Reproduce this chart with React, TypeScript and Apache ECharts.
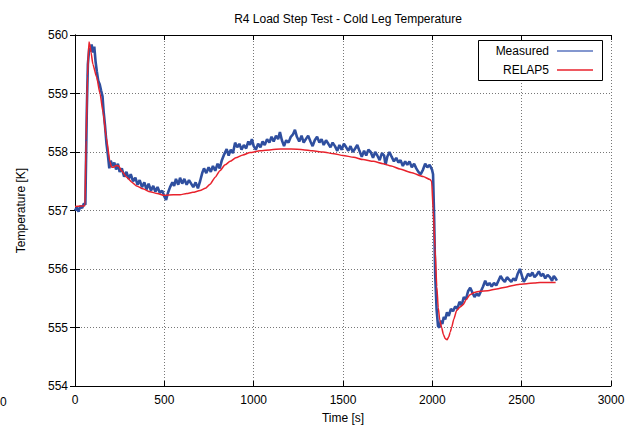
import React, { useEffect, useRef } from "react";
import * as echarts from "echarts";

const TITLE = "R4 Load Step Test - Cold Leg Temperature";
const X_NAME = "Time [s]";
const Y_NAME = "Temperature [K]";
const SERIES_NAMES = ["Measured", "RELAP5"];

const measuredT = [
  0, 10, 20, 30, 40, 50, 58, 62, 66, 72, 80, 88, 93, 100, 108, 115, 122, 130, 138, 146,
  154, 160, 168, 176, 184, 192, 200, 210, 220, 230, 240, 250, 262, 275, 288, 300, 312, 325, 338, 350,
  362, 375, 388, 400, 412, 425, 438, 450, 462, 475, 488, 500, 510, 520, 532, 545, 555, 565, 578, 588,
  600, 612, 625, 638, 650, 662, 675, 688, 700, 712, 722, 735, 748, 760, 772, 785, 798, 810, 822, 835,
  849, 860, 872, 884, 896, 908, 920, 932, 945, 958, 970, 980, 990, 1000, 1012, 1025, 1038, 1050, 1062, 1075,
  1088, 1100, 1112, 1125, 1137, 1147, 1158, 1170, 1182, 1195, 1208, 1220, 1231, 1242, 1255, 1268, 1280, 1292, 1305, 1318,
  1330, 1342, 1355, 1368, 1380, 1392, 1405, 1418, 1430, 1442, 1455, 1468, 1480, 1492, 1505, 1518, 1530, 1542, 1555, 1568,
  1580, 1592, 1605, 1618, 1630, 1642, 1655, 1668, 1680, 1692, 1705, 1718, 1730, 1738, 1748, 1760, 1772, 1785, 1798, 1810,
  1822, 1835, 1848, 1860, 1872, 1885, 1898, 1910, 1922, 1935, 1948, 1960, 1972, 1985, 1998, 2004, 2010, 2016, 2024, 2032,
  2040, 2048, 2056, 2064, 2072, 2082, 2092, 2104, 2116, 2128, 2140, 2152, 2164, 2176, 2188, 2200, 2212, 2224, 2236, 2248,
  2260, 2272, 2284, 2296, 2308, 2320, 2332, 2345, 2358, 2370, 2382, 2394, 2406, 2418, 2430, 2442, 2454, 2466, 2478, 2490,
  2502, 2512, 2524, 2536, 2548, 2560, 2572, 2584, 2596, 2608, 2620, 2632, 2645, 2658, 2670, 2680, 2690, 2697,
];

const measuredV = [
  557.0, 557.05, 556.98, 557.08, 557.04, 557.12, 557.1, 557.9, 558.7, 559.5, 559.78, 559.72, 559.84, 559.7, 559.8, 559.55, 559.38, 559.22, 559.16, 559.05,
  558.95, 558.7, 558.45, 558.15, 557.95, 557.72, 557.85, 557.76, 557.82, 557.7, 557.8, 557.66, 557.72, 557.58, 557.66, 557.54, 557.62, 557.5, 557.56, 557.44,
  557.52, 557.4, 557.48, 557.36, 557.46, 557.34, 557.42, 557.32, 557.4, 557.3, 557.34, 557.24, 557.18, 557.3, 557.4, 557.48, 557.42, 557.54, 557.44, 557.56,
  557.46, 557.54, 557.44, 557.52, 557.46, 557.4, 557.48, 557.38, 557.5, 557.64, 557.72, 557.64, 557.74, 557.66, 557.76, 557.68, 557.8, 557.72, 557.86, 557.96,
  558.05, 557.94, 558.04, 557.98, 558.16, 558.08, 558.14, 558.04, 558.12, 558.06, 558.18, 558.12, 558.22, 558.1, 558.04, 558.14, 558.08, 558.18, 558.12, 558.22,
  558.16, 558.26, 558.18, 558.28, 558.22, 558.34, 558.2, 558.1, 558.2, 558.16, 558.26, 558.3, 558.38, 558.26, 558.18, 558.28, 558.16, 558.22, 558.28, 558.18,
  558.1, 558.2, 558.26, 558.16, 558.22, 558.12, 558.2, 558.14, 558.08, 558.16, 558.1, 558.02, 558.12, 558.04, 558.14, 558.08, 558.02, 558.1, 558.0, 558.06,
  558.12, 558.02, 557.92, 558.02, 557.94, 558.04, 558.0, 557.9, 558.0, 557.94, 557.86, 557.98, 557.94, 557.78, 557.92, 558.0, 557.92, 557.84, 557.9, 557.82,
  557.86, 557.76, 557.84, 557.78, 557.84, 557.74, 557.8, 557.72, 557.66, 557.62, 557.7, 557.8, 557.74, 557.78, 557.7, 557.62, 556.9, 555.9, 555.3, 555.02,
  555.0, 555.12, 555.06, 555.18, 555.14, 555.26, 555.2, 555.32, 555.28, 555.36, 555.32, 555.44, 555.38, 555.52, 555.48, 555.62, 555.68, 555.6, 555.52, 555.58,
  555.54, 555.62, 555.7, 555.8, 555.72, 555.76, 555.7, 555.76, 555.72, 555.8, 555.88, 555.82, 555.78, 555.86, 555.82, 555.78, 555.84, 555.8, 555.92, 556.0,
  555.88, 555.78, 555.84, 555.92, 555.88, 555.94, 555.86, 555.9, 555.96, 555.88, 555.92, 555.84, 555.9, 555.86, 555.8, 555.88, 555.84, 555.8,
];

const relapT = [
  0, 56, 62, 70, 78, 82, 90, 100, 121, 140, 157, 175, 196, 205, 215, 230, 245, 260, 289, 320,
  345, 380, 420, 460, 500, 550, 588, 625, 660, 700, 730, 756, 785, 811, 840, 868, 900, 940, 980, 1035,
  1100, 1150, 1210, 1276, 1330, 1388, 1450, 1500, 1560, 1612, 1670, 1724, 1770, 1819, 1880, 1948, 1987, 1996, 2005, 2015,
  2025, 2033, 2042, 2052, 2062, 2072, 2082, 2092, 2100, 2108, 2120, 2136, 2155, 2172, 2190, 2210, 2235, 2267, 2310, 2360,
  2410, 2452, 2490, 2528, 2570, 2603, 2650, 2690,
];

const relapV = [
  557.07, 557.08, 558.2, 559.3, 559.88, 559.85, 559.7, 559.5, 559.28, 559.0, 558.68, 558.25, 557.83, 557.74, 557.74, 557.77, 557.76, 557.68, 557.57, 557.48,
  557.42, 557.37, 557.32, 557.29, 557.26, 557.27, 557.27, 557.29, 557.31, 557.34, 557.38, 557.45, 557.57, 557.68, 557.78, 557.84, 557.9, 557.95, 557.99, 558.02,
  558.04, 558.05, 558.05, 558.04, 558.02, 558.0, 557.97, 557.94, 557.91, 557.87, 557.84, 557.8, 557.76, 557.71, 557.65, 557.58, 557.53, 557.5, 557.0, 556.36,
  555.7, 555.34, 555.12, 555.0, 554.88, 554.81, 554.79, 554.84, 554.92, 555.0, 555.14, 555.29, 555.35, 555.39, 555.48, 555.56, 555.6, 555.62, 555.63, 555.66,
  555.69, 555.72, 555.74, 555.75, 555.76, 555.77, 555.77, 555.77,
];

const X_MIN = 0;
const X_MAX = 3000;
const X_STEP = 500;
const Y_MIN = 554;
const Y_MAX = 560;
const Y_STEP = 1;

const BLUE = "#2f4f9f";
const BLUE_LEGEND = "#5a74bf";
const RED = "#e8222c";
const FONT = "Liberation Sans, Arial, Helvetica, sans-serif";

export default function App() {
  const ref = useRef<HTMLDivElement>(null);

  useEffect(() => {
    if (!ref.current) return;
    const chart = echarts.init(ref.current, undefined, { renderer: "svg" });

    const measured = measuredT.map((t, i) => [t, measuredV[i]]);
    const relap = relapT.map((t, i) => [t, relapV[i]]);

    const baseAxis = {
      type: "value" as const,
      axisLine: { show: true, lineStyle: { color: "#000", width: 1 } },
      axisTick: { show: true, inside: true, length: 5, lineStyle: { color: "#000" } },
    };

    const plain = (v: number) => String(v);

    const option: any = {
      animation: false,
      backgroundColor: "#fff",
      textStyle: { fontFamily: FONT },
      title: {
        text: TITLE,
        left: 343,
        top: 8,
        textAlign: "center",
        textStyle: { fontFamily: FONT, fontSize: 12, fontWeight: "normal", color: "#000" },
      },
      grid: { left: 75, right: 21, top: 35, bottom: 40 },
      xAxis: [
        {
          ...baseAxis,
          position: "bottom",
          min: X_MIN,
          max: X_MAX,
          interval: X_STEP,
          name: X_NAME,
          nameLocation: "middle",
          nameGap: 26,
          nameTextStyle: { fontFamily: FONT, fontSize: 12, color: "#000" },
          axisLabel: { fontFamily: FONT, fontSize: 12, color: "#000", margin: 8, formatter: plain },
          splitLine: { show: true, lineStyle: { color: "#777", type: [1, 2], width: 1 } },
        },
        {
          ...baseAxis,
          position: "top",
          min: X_MIN,
          max: X_MAX,
          interval: X_STEP,
          axisLabel: { show: false },
          splitLine: { show: false },
        },
      ],
      yAxis: [
        {
          ...baseAxis,
          position: "left",
          min: Y_MIN,
          max: Y_MAX,
          interval: Y_STEP,
          name: Y_NAME,
          nameLocation: "middle",
          nameGap: 48,
          nameRotate: 90,
          nameTextStyle: { fontFamily: FONT, fontSize: 12, color: "#000" },
          axisLabel: { fontFamily: FONT, fontSize: 12, color: "#000", margin: 7, formatter: plain },
          splitLine: { show: true, lineStyle: { color: "#777", type: [1, 2], width: 1 } },
        },
        {
          ...baseAxis,
          position: "right",
          min: Y_MIN,
          max: Y_MAX,
          interval: Y_STEP,
          axisLabel: { show: false },
          splitLine: { show: false },
        },
      ],
      series: [
        {
          name: SERIES_NAMES[0],
          type: "line",
          xAxisIndex: 0,
          yAxisIndex: 0,
          data: measured,
          symbol: "none",
          lineStyle: { color: BLUE, width: 2.6 },
          z: 2,
        },
        {
          name: SERIES_NAMES[1],
          type: "line",
          xAxisIndex: 0,
          yAxisIndex: 0,
          data: relap,
          symbol: "none",
          smooth: 0.2,
          smoothMonotone: "x",
          lineStyle: { color: RED, width: 1.5 },
          z: 3,
        },
      ],
      graphic: [
        {
          type: "rect",
          shape: { x: 478.5, y: 40.5, width: 124, height: 40 },
          style: { fill: "#fff", stroke: "#000", lineWidth: 1 },
          z: 10,
        },
        {
          type: "text",
          x: 549,
          y: 51,
          style: { text: SERIES_NAMES[0], fontFamily: FONT, fontSize: 12, fill: "#000", align: "right", verticalAlign: "middle" },
          z: 11,
        },
        {
          type: "line",
          shape: { x1: 557, y1: 51, x2: 593, y2: 51 },
          style: { stroke: BLUE_LEGEND, lineWidth: 1.5 },
          z: 11,
        },
        {
          type: "text",
          x: 549,
          y: 70,
          style: { text: SERIES_NAMES[1], fontFamily: FONT, fontSize: 12, fill: "#000", align: "right", verticalAlign: "middle" },
          z: 11,
        },
        {
          type: "line",
          shape: { x1: 557, y1: 70, x2: 593, y2: 70 },
          style: { stroke: RED, lineWidth: 1.5 },
          z: 11,
        },
        {
          type: "text",
          x: 0,
          y: 402,
          style: { text: "0", fontFamily: FONT, fontSize: 12, fill: "#000", verticalAlign: "middle" },
          z: 11,
        },
      ],
    };

    chart.setOption(option);
    return () => chart.dispose();
  }, []);

  return (
    <div
      ref={ref}
      style={{ position: "fixed", left: 0, top: 0, width: 632, height: 429, background: "#fff" }}
    />
  );
}
